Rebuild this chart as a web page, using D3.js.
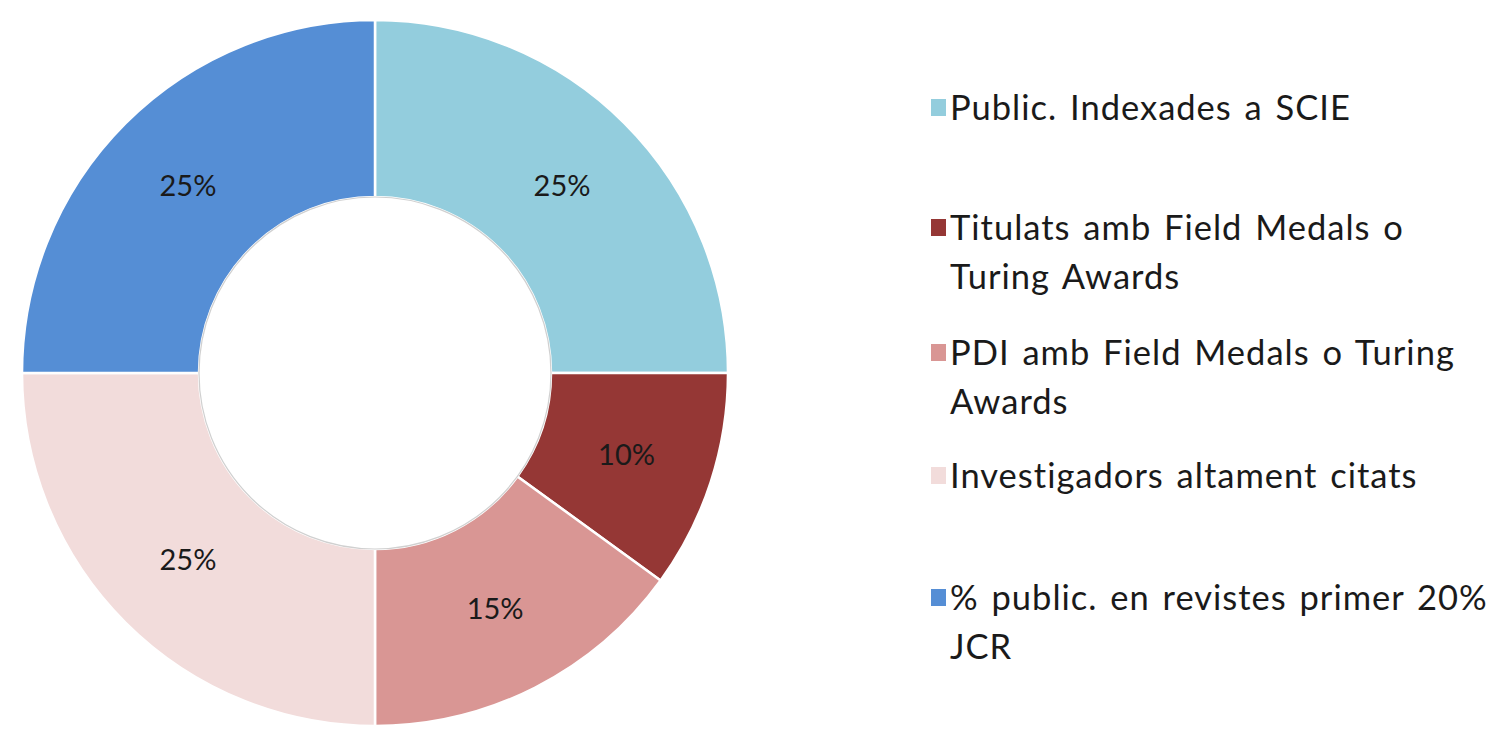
<!DOCTYPE html>
<html>
<head>
<meta charset="utf-8">
<script src="https://cdn.jsdelivr.net/npm/d3@7"></script>
<style>
  html, body { margin: 0; padding: 0; background: #fff; }
  svg { display: block; }
</style>
</head>
<body>
<svg id="chart" width="1506" height="730"></svg>
<script>
// Indicator weights (percent) and their legend labels, in clockwise order from 12 o'clock
const categories = [
  ["Public. Indexades a SCIE"],
  ["Titulats amb Field Medals o", "Turing Awards"],
  ["PDI amb Field Medals o Turing", "Awards"],
  ["Investigadors altament citats"],
  ["% public. en revistes primer 20%", "JCR"]
];
const values = [25, 10, 15, 25, 25];
const colors = ["#93cddd", "#953735", "#d99694", "#f2dcdb", "#558ed5"];
// Legend row baselines (first line of each entry)
const legendBaselines = [120, 240, 365, 488, 610];

const svg = d3.select("#chart");
const cx = 375, cy = 373;
const outerR = 353, innerR = 176;
const font = "Lato, 'Open Sans', sans-serif";

const pie = d3.pie().sort(null).value(d => d)(values);
const arc = d3.arc().innerRadius(innerR).outerRadius(outerR);

const g = svg.append("g").attr("transform", `translate(${cx},${cy})`);

g.selectAll("path.slice")
  .data(pie)
  .join("path")
  .attr("class", "slice")
  .attr("d", arc)
  .attr("fill", (d, i) => colors[i])
  .attr("stroke", "#ffffff")
  .attr("stroke-width", 2.5);

// faint rim around the hole
g.append("circle")
  .attr("r", innerR)
  .attr("fill", "none")
  .attr("stroke", "#d0d0d0")
  .attr("stroke-width", 1.2);

g.selectAll("text.pct")
  .data(pie)
  .join("text")
  .attr("class", "pct")
  .attr("transform", d => `translate(${arc.centroid(d)})`)
  .attr("text-anchor", "middle")
  .attr("dy", "0.36em")
  .attr("font-family", font)
  .attr("font-size", 29)
  .attr("fill", "#1a1a1a")
  .text(d => d.data + "%");

// Legend
const legend = svg.append("g");
const items = legend.selectAll("g.item")
  .data(categories)
  .join("g")
  .attr("class", "item")
  .attr("transform", (d, i) => `translate(931,${legendBaselines[i]})`);

items.append("rect")
  .attr("x", 0)
  .attr("y", -21)
  .attr("width", 15)
  .attr("height", 17)
  .attr("fill", (d, i) => colors[i]);

items.append("text")
  .attr("x", 19)
  .attr("font-family", font)
  .attr("font-size", 34.5)
  .attr("letter-spacing", 1)
  .attr("word-spacing", 3)
  .attr("fill", "#1a1a1a")
  .selectAll("tspan")
  .data(d => d)
  .join("tspan")
  .attr("x", 19)
  .attr("dy", (d, i) => i === 0 ? 0 : 49)
  .text(d => d);
</script>
</body>
</html>
